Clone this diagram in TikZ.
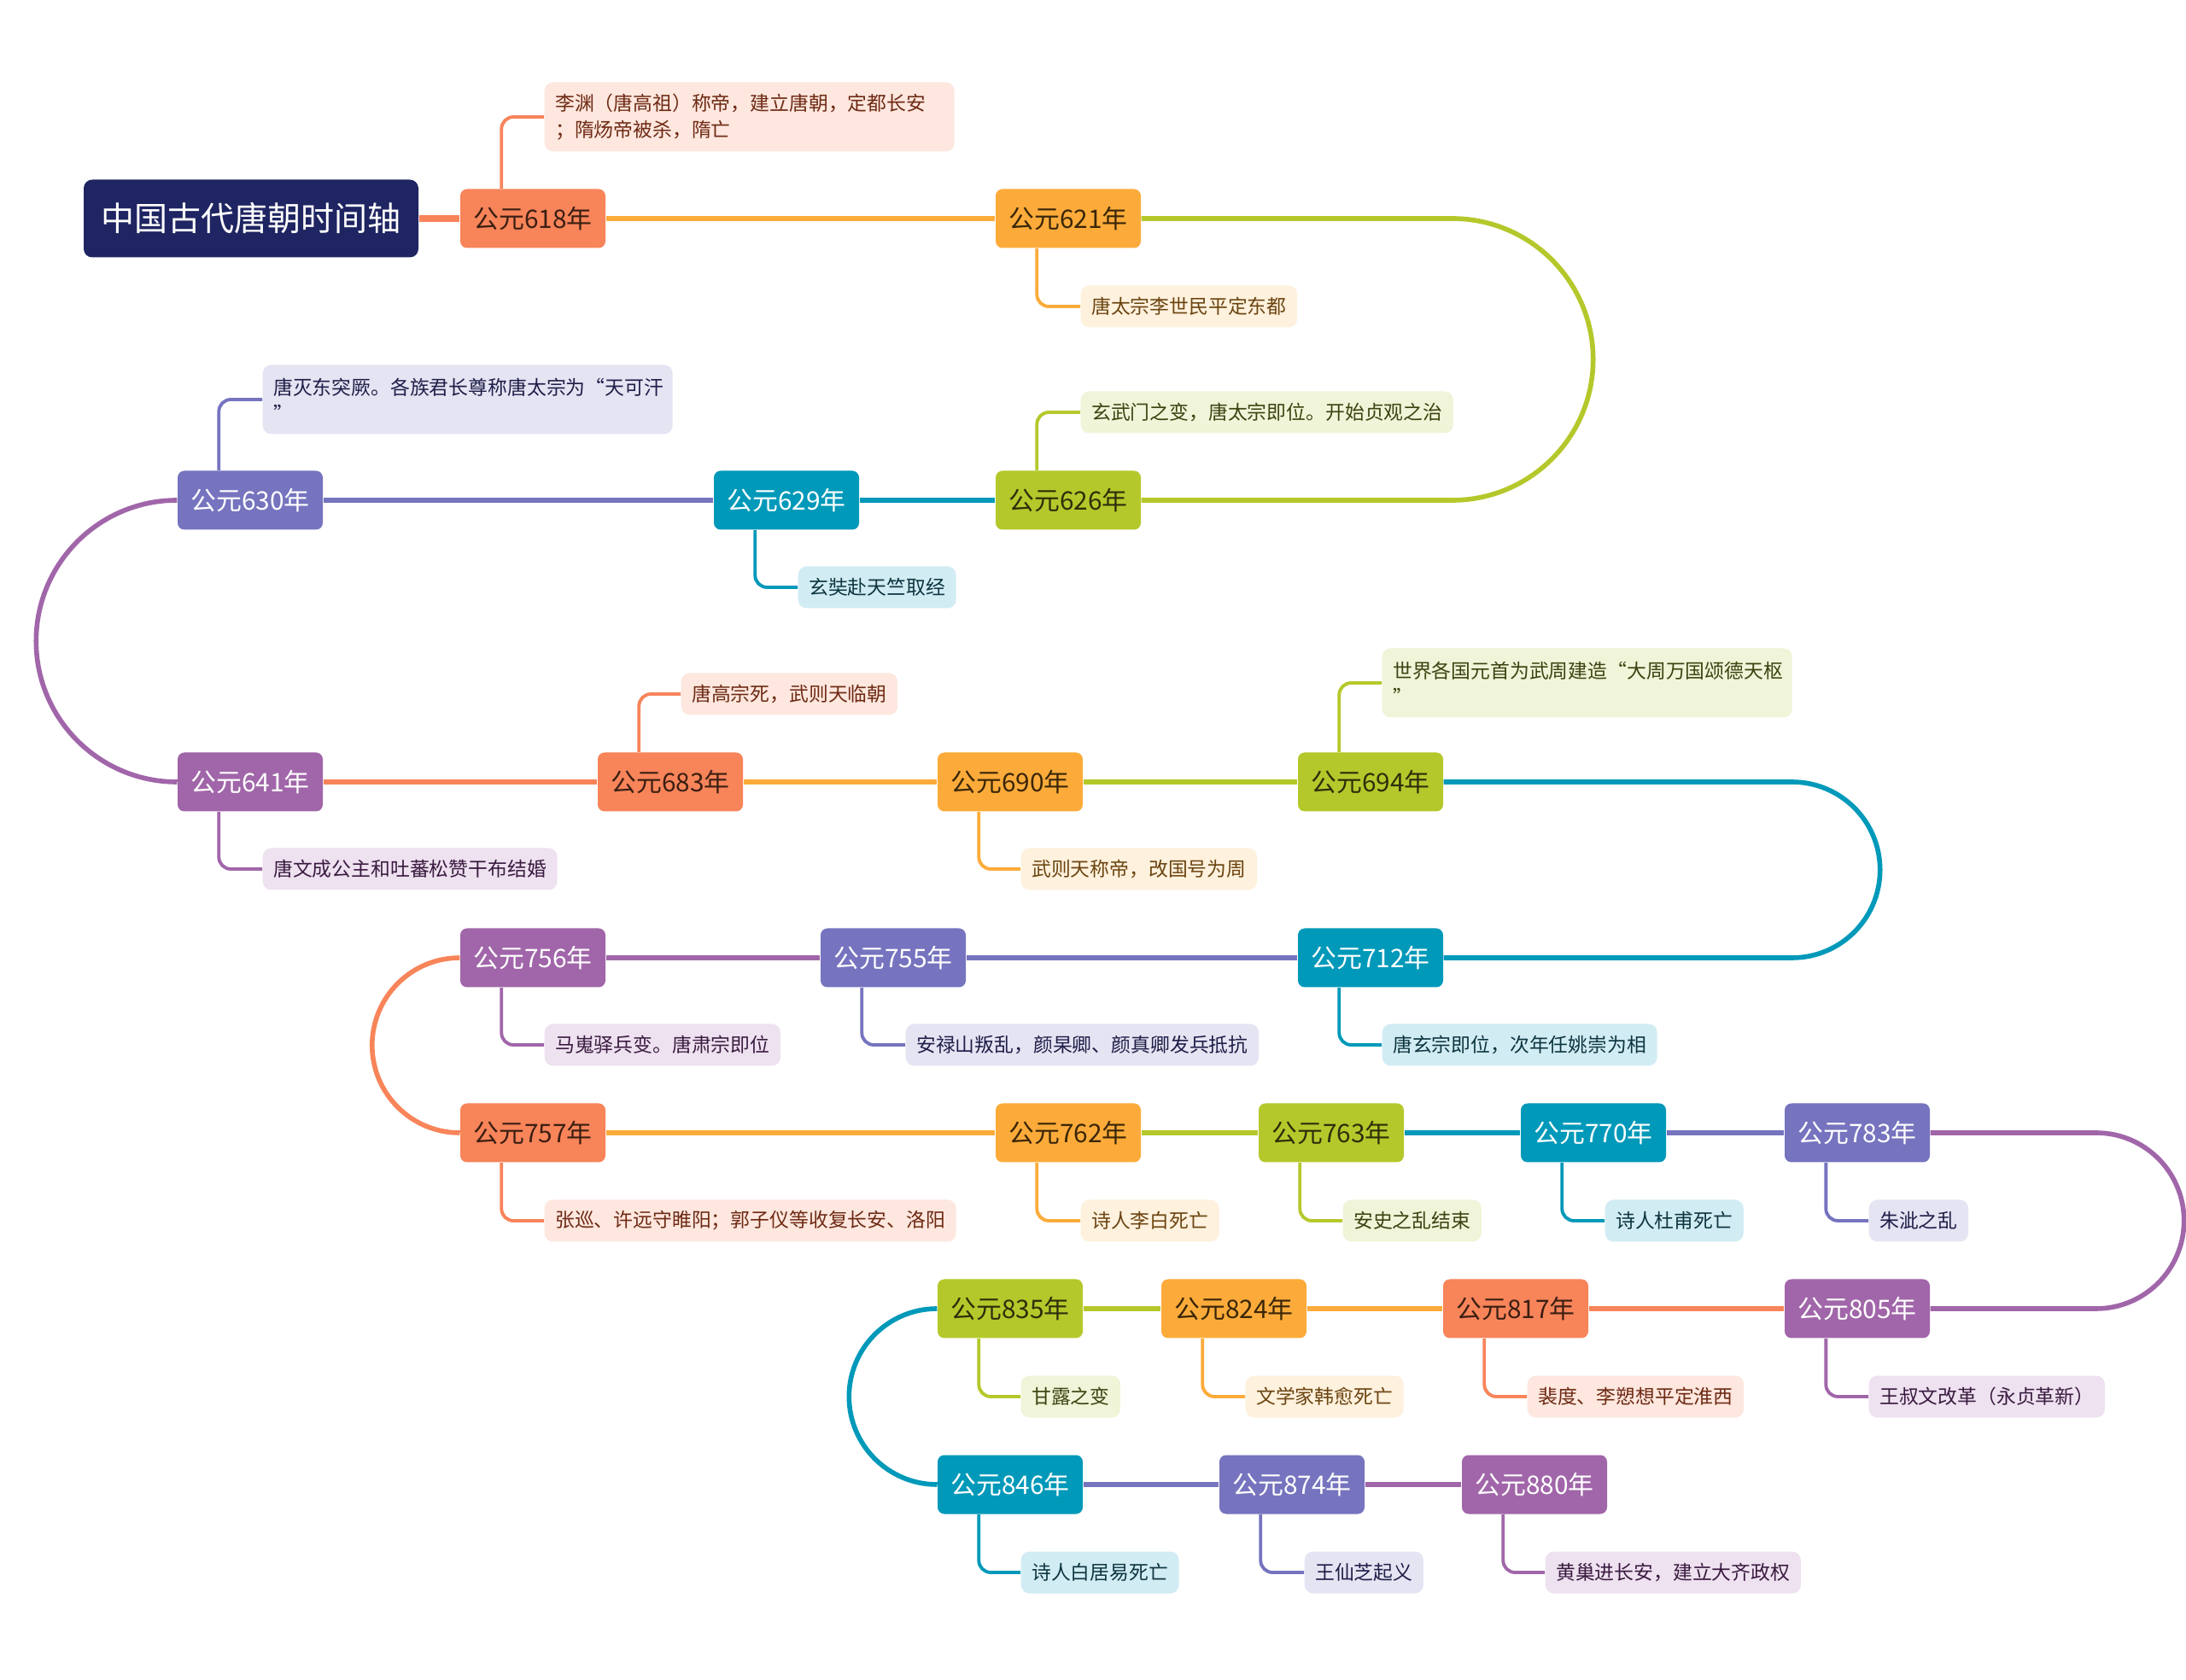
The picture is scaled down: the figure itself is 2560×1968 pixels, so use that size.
\documentclass[tikz,border=0pt]{standalone}
\usepackage{fontspec}
\newfontfamily\cjk{Noto Sans CJK SC}
\definecolor{navy}{HTML}{1F2562}
\definecolor{tcoral}{HTML}{F8845A}
\definecolor{tcoralbg}{HTML}{FDE7DE}
\definecolor{tcoralyr}{HTML}{3B1F12}
\definecolor{tcoralnt}{HTML}{6E2A14}
\definecolor{tamber}{HTML}{FCAB3A}
\definecolor{tamberbg}{HTML}{FEF1DD}
\definecolor{tamberyr}{HTML}{3A2608}
\definecolor{tambernt}{HTML}{6B4410}
\definecolor{tlime}{HTML}{B5C82B}
\definecolor{tlimebg}{HTML}{F0F4D8}
\definecolor{tlimeyr}{HTML}{2B300A}
\definecolor{tliment}{HTML}{3C4210}
\definecolor{tteal}{HTML}{0099B9}
\definecolor{ttealbg}{HTML}{D2ECF3}
\definecolor{ttealyr}{HTML}{FFFFFF}
\definecolor{ttealnt}{HTML}{0D3540}
\definecolor{tiris}{HTML}{7674BF}
\definecolor{tirisbg}{HTML}{E4E4F3}
\definecolor{tirisyr}{HTML}{FFFFFF}
\definecolor{tirisnt}{HTML}{1E1E48}
\definecolor{tplum}{HTML}{A166A9}
\definecolor{tplumbg}{HTML}{EEE1F0}
\definecolor{tplumyr}{HTML}{FFFFFF}
\definecolor{tplumnt}{HTML}{3A1B40}
\tikzset{
  yr/.style={font=\cjk\fontsize{8.5}{10}\selectfont, fill=#1, text=#1yr,
    rounded corners=0.8mm, minimum width=17mm, minimum height=6.9mm, inner sep=0pt},
  note/.style={font=\cjk\fontsize{6.5}{8.8}\selectfont, fill=#1bg, text=#1nt,
    rounded corners=1mm, minimum height=4.9mm, inner xsep=1.25mm, inner ysep=0pt, anchor=west},
  wrapnote/.style={note=#1, text width=45.5mm, align=left, minimum height=8.1mm},
  link/.style={draw=#1, line width=1.6pt},
  branch/.style={draw=#1, line width=1.1pt, rounded corners=1.4mm},
}
\begin{document}
\begin{tikzpicture}[x=0.1mm,y=0.1mm]
\useasboundingbox (0,0) rectangle (2560,-1968);
\fill[white] (0,0) rectangle (2560,-1968);

\node[fill=navy, text=white, font=\cjk\fontsize{11.1}{13}\selectfont, rounded corners=1mm,
  minimum width=39.2mm, minimum height=9.1mm] (title) at (294,-256) {中国古代唐朝时间轴};

\node[yr=tcoral] (y618) at (624,-256) {公元618年};
\node[yr=tamber] (y621) at (1251,-256) {公元621年};
\node[yr=tlime] (y626) at (1251,-586) {公元626年};
\node[yr=tteal] (y629) at (921,-586) {公元629年};
\node[yr=tiris] (y630) at (293,-586) {公元630年};
\node[yr=tplum] (y641) at (293,-916) {公元641年};
\node[yr=tcoral] (y683) at (785,-916) {公元683年};
\node[yr=tamber] (y690) at (1183,-916) {公元690年};
\node[yr=tlime] (y694) at (1605,-916) {公元694年};
\node[yr=tteal] (y712) at (1605,-1122) {公元712年};
\node[yr=tiris] (y755) at (1046,-1122) {公元755年};
\node[yr=tplum] (y756) at (624,-1122) {公元756年};
\node[yr=tcoral] (y757) at (624,-1327) {公元757年};
\node[yr=tamber] (y762) at (1251,-1327) {公元762年};
\node[yr=tlime] (y763) at (1559,-1327) {公元763年};
\node[yr=tteal] (y770) at (1866,-1327) {公元770年};
\node[yr=tiris] (y783) at (2175,-1327) {公元783年};
\node[yr=tplum] (y805) at (2175,-1533) {公元805年};
\node[yr=tcoral] (y817) at (1775,-1533) {公元817年};
\node[yr=tamber] (y824) at (1445,-1533) {公元824年};
\node[yr=tlime] (y835) at (1183,-1533) {公元835年};
\node[yr=tteal] (y846) at (1183,-1739) {公元846年};
\node[yr=tiris] (y874) at (1513,-1739) {公元874年};
\node[yr=tplum] (y880) at (1797,-1739) {公元880年};

\node[wrapnote=tcoral] (n618) at (637,-137) {李渊（唐高祖）称帝，建立唐朝，定都长安\\；隋炀帝被杀，隋亡};
\node[note=tamber] (n621) at (1265,-359) {唐太宗李世民平定东都};
\node[note=tlime] (n626) at (1265,-483) {玄武门之变，唐太宗即位。开始贞观之治};
\node[note=tteal] (n629) at (934,-688) {玄奘赴天竺取经};
\node[wrapnote=tiris] (n630) at (307,-468) {唐灭东突厥。各族君长尊称唐太宗为“天可汗\\”};
\node[note=tplum] (n641) at (307,-1018) {唐文成公主和吐蕃松赞干布结婚};
\node[note=tcoral] (n683) at (797,-813) {唐高宗死，武则天临朝};
\node[note=tamber] (n690) at (1195,-1018) {武则天称帝，改国号为周};
\node[wrapnote=tlime] (n694) at (1618,-800) {世界各国元首为武周建造“大周万国颂德天枢\\”};
\node[note=tteal] (n712) at (1618,-1224) {唐玄宗即位，次年任姚崇为相};
\node[note=tiris] (n755) at (1060,-1224) {安禄山叛乱，颜杲卿、颜真卿发兵抵抗};
\node[note=tplum] (n756) at (637,-1224) {马嵬驿兵变。唐肃宗即位};
\node[note=tcoral] (n757) at (637,-1430) {张巡、许远守睢阳；郭子仪等收复长安、洛阳};
\node[note=tamber] (n762) at (1265,-1430) {诗人李白死亡};
\node[note=tlime] (n763) at (1572,-1430) {安史之乱结束};
\node[note=tteal] (n770) at (1879,-1430) {诗人杜甫死亡};
\node[note=tiris] (n783) at (2188,-1430) {朱泚之乱};
\node[note=tplum] (n805) at (2188,-1636) {王叔文改革（永贞革新）};
\node[note=tcoral] (n817) at (1788,-1636) {裴度、李愬想平定淮西};
\node[note=tamber] (n824) at (1458,-1636) {文学家韩愈死亡};
\node[note=tlime] (n835) at (1195,-1636) {甘露之变};
\node[note=tteal] (n846) at (1195,-1842) {诗人白居易死亡};
\node[note=tiris] (n874) at (1527,-1842) {王仙芝起义};
\node[note=tplum] (n880) at (1809,-1842) {黄巢进长安，建立大齐政权};

\draw[link=tcoral, line width=2pt] (title.east) -- (y618.west);
\draw[link=tamber] (y618.east) -- (y621.west);
\draw[link=tlime] (y621.east) -- ++(364,0) arc[start angle=90, end angle=-90, radius=16.5mm] -- (y626.east);
\draw[link=tteal] (y626.west) -- (y629.east);
\draw[link=tiris] (y629.west) -- (y630.east);
\draw[link=tplum] (y630.west) arc[start angle=90, end angle=270, radius=16.5mm] -- (y641.west);
\draw[link=tcoral] (y641.east) -- (y683.west);
\draw[link=tamber] (y683.east) -- (y690.west);
\draw[link=tlime] (y690.east) -- (y694.west);
\draw[link=tteal] (y694.east) -- ++(408,0) arc[start angle=90, end angle=-90, radius=10.3mm] -- (y712.east);
\draw[link=tiris] (y712.west) -- (y755.east);
\draw[link=tplum] (y755.west) -- (y756.east);
\draw[link=tcoral] (y756.west) arc[start angle=90, end angle=270, radius=10.25mm] -- (y757.west);
\draw[link=tamber] (y757.east) -- (y762.west);
\draw[link=tlime] (y762.east) -- (y763.west);
\draw[link=tteal] (y763.east) -- (y770.west);
\draw[link=tiris] (y770.east) -- (y783.west);
\draw[link=tplum] (y783.east) -- ++(194,0) arc[start angle=90, end angle=-90, radius=10.3mm] -- (y805.east);
\draw[link=tcoral] (y805.west) -- (y817.east);
\draw[link=tamber] (y817.west) -- (y824.east);
\draw[link=tlime] (y824.west) -- (y835.east);
\draw[link=tteal] (y835.west) arc[start angle=90, end angle=270, radius=10.3mm] -- (y846.west);
\draw[link=tiris] (y846.east) -- (y874.west);
\draw[link=tplum] (y874.east) -- (y880.west);

\draw[branch=tcoral] (y618.north west) ++(49,0) |- (n618.west);
\draw[branch=tamber] (y621.south west) ++(49,0) |- (n621.west);
\draw[branch=tlime] (y626.north west) ++(49,0) |- (n626.west);
\draw[branch=tteal] (y629.south west) ++(49,0) |- (n629.west);
\draw[branch=tiris] (y630.north west) ++(49,0) |- (n630.west);
\draw[branch=tplum] (y641.south west) ++(49,0) |- (n641.west);
\draw[branch=tcoral] (y683.north west) ++(49,0) |- (n683.west);
\draw[branch=tamber] (y690.south west) ++(49,0) |- (n690.west);
\draw[branch=tlime] (y694.north west) ++(49,0) |- (n694.west);
\draw[branch=tteal] (y712.south west) ++(49,0) |- (n712.west);
\draw[branch=tiris] (y755.south west) ++(49,0) |- (n755.west);
\draw[branch=tplum] (y756.south west) ++(49,0) |- (n756.west);
\draw[branch=tcoral] (y757.south west) ++(49,0) |- (n757.west);
\draw[branch=tamber] (y762.south west) ++(49,0) |- (n762.west);
\draw[branch=tlime] (y763.south west) ++(49,0) |- (n763.west);
\draw[branch=tteal] (y770.south west) ++(49,0) |- (n770.west);
\draw[branch=tiris] (y783.south west) ++(49,0) |- (n783.west);
\draw[branch=tplum] (y805.south west) ++(49,0) |- (n805.west);
\draw[branch=tcoral] (y817.south west) ++(49,0) |- (n817.west);
\draw[branch=tamber] (y824.south west) ++(49,0) |- (n824.west);
\draw[branch=tlime] (y835.south west) ++(49,0) |- (n835.west);
\draw[branch=tteal] (y846.south west) ++(49,0) |- (n846.west);
\draw[branch=tiris] (y874.south west) ++(49,0) |- (n874.west);
\draw[branch=tplum] (y880.south west) ++(49,0) |- (n880.west);
\end{tikzpicture}
\end{document}
